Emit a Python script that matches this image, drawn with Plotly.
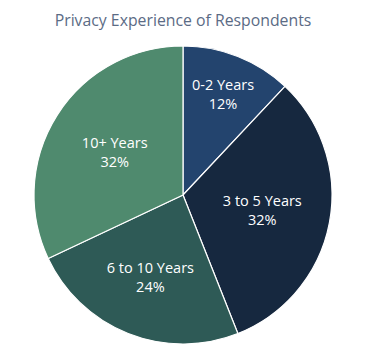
import plotly.graph_objects as go

labels = ["0-2 Years", "3 to 5 Years", "6 to 10 Years", "10+ Years"]
values = [12, 32, 24, 32]
colors = ["#23446e", "#16283f", "#2e5a56", "#4f8a6e"]

W, H = 367, 356
OFF = 8  # page body margin
fig = go.Figure(go.Pie(
    labels=labels,
    values=values,
    sort=False,
    direction="clockwise",
    rotation=0,
    marker=dict(colors=colors, line=dict(color="white", width=1.2)),
    texttemplate="%{label}<br>%{value}%",
    textposition="inside",
    insidetextorientation="horizontal",
    textfont=dict(color="white", size=14.5, family="Open Sans", weight=500),
    hoverinfo="label+percent",
    domain=dict(x=[(33 - OFF) / W, (333 - OFF) / W],
                y=[(H - 344 + OFF) / H, (H - 46 + OFF) / H]),
    showlegend=False,
))
fig.update_layout(
    width=W, height=H,
    margin=dict(l=0, r=0, t=0, b=0),
    paper_bgcolor="white",
    title=dict(text="Privacy Experience of Respondents", x=(183 - OFF) / W, xanchor="center",
               y=1 - (20 - OFF) / H, yanchor="middle",
               font=dict(size=15.8, color="#5b6b85", family="Open Sans", weight=500)),
)
fig.write_html("out.html")
